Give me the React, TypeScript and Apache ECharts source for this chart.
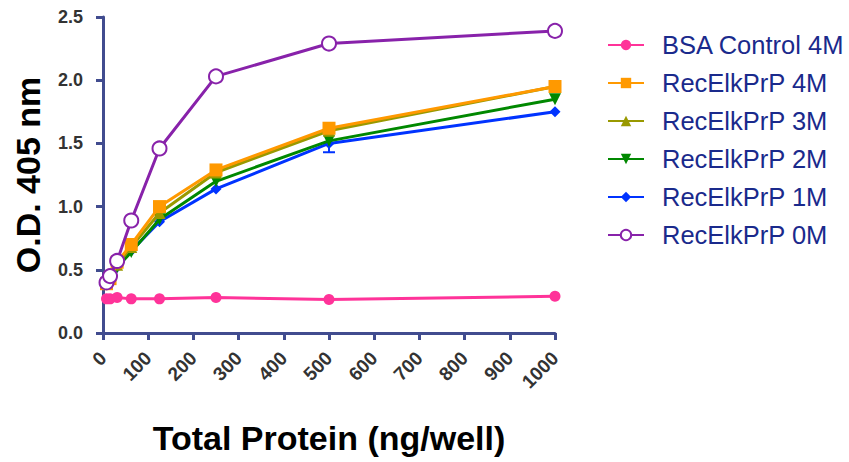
import React, { useEffect, useRef } from "react";
import * as echarts from "echarts";

const xValues = [7.8, 15.6, 31.25, 62.5, 125, 250, 500, 1000];
const bsa4M = [0.27, 0.27, 0.28, 0.27, 0.27, 0.28, 0.265, 0.29];
const rec4M = [0.39, 0.43, 0.56, 0.70, 1.0, 1.29, 1.62, 1.95];
const rec3M = [0.40, 0.44, 0.54, 0.68, 0.95, 1.27, 1.60, 1.95];
const rec2M = [0.39, 0.43, 0.52, 0.64, 0.90, 1.20, 1.52, 1.85];
const rec1M = [0.40, 0.44, 0.52, 0.65, 0.88, 1.14, 1.50, 1.75];
const rec0M = [0.40, 0.45, 0.57, 0.89, 1.46, 2.03, 2.29, 2.39];
const errorBars = [[500, 1.43, 1.50]];
const seriesNames = [
  "BSA Control 4M",
  "RecElkPrP 4M",
  "RecElkPrP 3M",
  "RecElkPrP 2M",
  "RecElkPrP 1M",
  "RecElkPrP 0M",
];

const FONT = "Liberation Sans, Arial, sans-serif";

export default function App() {
  const ref = useRef<HTMLDivElement>(null);
  useEffect(() => {
    if (!ref.current) return;
    const chart = echarts.init(ref.current, null, { renderer: "svg" });
    const mk = (
      name: string,
      vals: number[],
      color: string,
      symbol: string,
      size: number,
      z: number
    ) => ({
      name,
      type: "line",
      data: xValues.map((x, i) => [x, vals[i]]),
      symbol,
      symbolSize: size,
      z,
      lineStyle: { color, width: 3 },
      itemStyle: { color },
      emphasis: { disabled: true },
    });
    chart.setOption({
      animation: false,
      textStyle: { fontFamily: FONT },
      grid: { left: 103, right: 294, top: 17, bottom: 129, containLabel: false },
      legend: {
        orient: "vertical",
        left: 602,
        top: 27,
        itemGap: 12,
        itemWidth: 36,
        itemHeight: 13,
        data: seriesNames,
        textStyle: { color: "#1a2a8c", fontSize: 25.5, fontFamily: FONT, padding: [0, 0, 0, 13] },
      },
      xAxis: {
        type: "value",
        min: 0,
        max: 1000,
        interval: 100,
        name: "Total Protein (ng/well)",
        nameLocation: "middle",
        nameGap: 88,
        nameTextStyle: { fontSize: 34, fontWeight: "bold", color: "#000", fontFamily: FONT },
        axisLine: { show: true, onZero: false, lineStyle: { color: "#414c8f", width: 3 } },
        axisTick: { show: true, length: 7, lineStyle: { color: "#414c8f", width: 3 } },
        axisLabel: {
          rotate: 45,
          fontSize: 19,
          fontWeight: "bold",
          color: "#333",
          margin: 22,
          fontFamily: FONT,
          formatter: (v: number) => String(v),
        },
        splitLine: { show: false },
      },
      yAxis: {
        type: "value",
        min: 0,
        max: 2.5,
        interval: 0.5,
        name: "O.D. 405 nm",
        nameLocation: "middle",
        nameGap: 58,
        nameTextStyle: { fontSize: 34, fontWeight: "bold", color: "#000", fontFamily: FONT },
        axisLine: { show: true, onZero: false, lineStyle: { color: "#414c8f", width: 3 } },
        axisTick: { show: true, length: 7, lineStyle: { color: "#414c8f", width: 3 } },
        axisLabel: {
          fontSize: 18,
          fontWeight: "bold",
          color: "#333",
          margin: 20,
          fontFamily: FONT,
          formatter: (v: number) => v.toFixed(1),
        },
        splitLine: { show: false },
      },
      series: [
        mk(seriesNames[0], bsa4M, "#ff3399", "circle", 11, 2),
        mk(seriesNames[4], rec1M, "#0033ff", "diamond", 11, 3),
        mk(seriesNames[3], rec2M, "#008800", "path://M0,0 L10,0 L5,10 Z", 12, 4),
        mk(seriesNames[2], rec3M, "#999900", "triangle", 12, 5),
        mk(seriesNames[1], rec4M, "#ff9900", "rect", 13, 6),
        {
          ...mk(seriesNames[5], rec0M, "#8822aa", "emptyCircle", 14, 7),
          itemStyle: { color: "#8822aa", borderColor: "#8822aa", borderWidth: 3 },
        },
        {
          type: "custom",
          name: "err",
          z: 3,
          data: errorBars,
          renderItem: (params: any, api: any) => {
            const x = api.value(0);
            const lo = api.coord([x, api.value(1)]);
            const hi = api.coord([x, api.value(2)]);
            return {
              type: "group",
              children: [
                { type: "line", shape: { x1: lo[0], y1: lo[1], x2: hi[0], y2: hi[1] }, style: { stroke: "#0033ff", lineWidth: 2 } },
                { type: "line", shape: { x1: lo[0] - 6, y1: lo[1], x2: lo[0] + 6, y2: lo[1] }, style: { stroke: "#0033ff", lineWidth: 2 } },
              ],
            };
          },
        },
      ],
    });
    return () => chart.dispose();
  }, []);
  return <div ref={ref} style={{ position: "absolute", left: 0, top: 0, width: 849, height: 462 }} />;
}
